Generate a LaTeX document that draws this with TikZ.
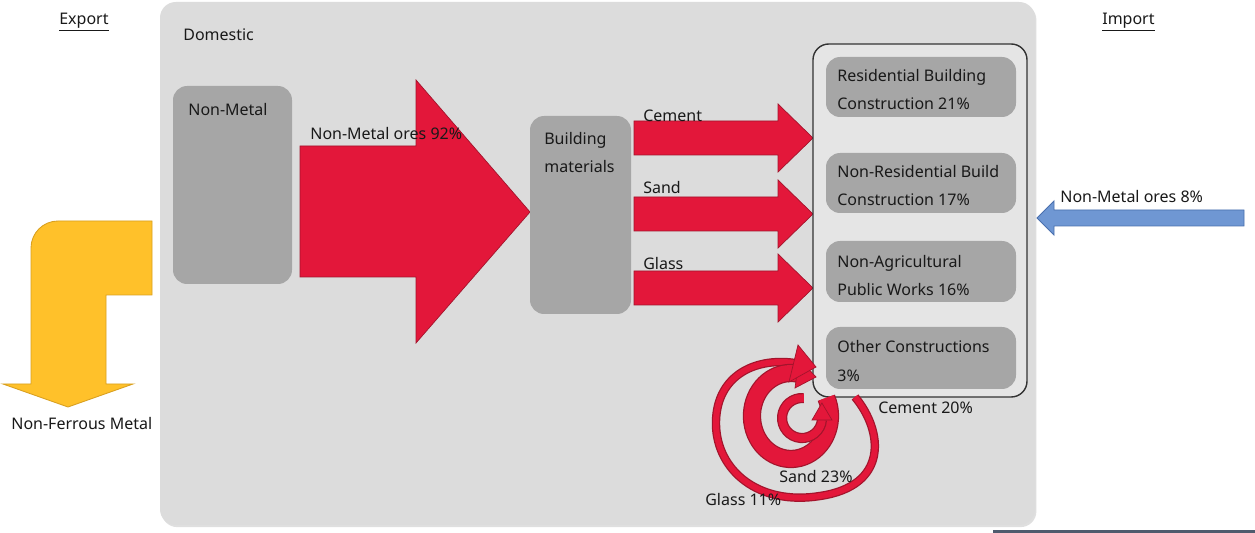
\documentclass[tikz,border=0pt]{standalone}
\usepackage{fontspec}
\setmainfont{Noto Sans}
\usetikzlibrary{shadows}
\definecolor{panelgray}{HTML}{DCDCDC}
\definecolor{boxgray}{HTML}{A6A6A6}
\definecolor{flowred}{HTML}{E3173A}
\definecolor{flowredline}{HTML}{A3142C}
\definecolor{importblue}{HTML}{6F97D3}
\definecolor{importblueline}{HTML}{4A70AE}
\definecolor{exportyellow}{HTML}{FFC12A}
\definecolor{exportyellowline}{HTML}{D9A020}
\definecolor{slate}{HTML}{4F5B6E}
\newcommand{\lblfont}{\fontsize{9.1}{10}\selectfont}
\begin{document}
\begin{tikzpicture}[x=0.02cm,y=-0.02cm,
  lbl/.style={inner sep=0pt,anchor=base west,font=\lblfont,text=black!90},
  graybox/.style={fill=boxgray,draw=none,rounded corners=8pt},
  flow/.style={fill=flowred,draw=flowredline,line width=0.4pt,line join=miter},
  bandout/.style={draw=flowredline,line cap=butt},
  bandin/.style={draw=flowred,line cap=butt},
]
\useasboundingbox (0,0) rectangle (1255,533);
\fill[white] (0,0) rectangle (1255,533);

% domestic panel
\path[fill=panelgray,rounded corners=9pt,
  drop shadow={shadow xshift=0.8pt,shadow yshift=-1.2pt,opacity=0.25,fill=black!50}]
  (160,2) rectangle (1035,525);
\node[lbl] (domestic) at (183,40.5) {Domestic};

% export / import headings
\node[lbl] (export) at (59,24.5) {\underline{Export}};
\node[lbl] (import) at (1102,24.5) {\underline{Import}};

% sources
\path[graybox] (173,86) rectangle (292,284);
\node[lbl] (nonmetal) at (188,115.5) {Non-Metal};

% main flow of non-metal ores
\draw[flow] (300,146) -- (416,146) -- (416,80) -- (530,212) -- (416,343) -- (416,277) -- (300,277) -- cycle;
\node[lbl] (nmores) at (310,139.5) {Non-Metal ores 92\%};

% building materials
\path[graybox] (530,116) rectangle (631,314);
\node[lbl] (bm1) at (544,144.5) {Building};
\node[lbl] (bm2) at (544,172.5) {materials};

% material flows
\draw[flow] (634,121) -- (778,121) -- (778,104) -- (813,138) -- (778,172) -- (778,155) -- (634,155) -- cycle;
\draw[flow] (634,197) -- (778,197) -- (778,180) -- (813,214) -- (778,248) -- (778,231) -- (634,231) -- cycle;
\draw[flow] (634,271) -- (778,271) -- (778,254) -- (813,288) -- (778,322) -- (778,305) -- (634,305) -- cycle;
\node[lbl] (cement) at (643,121.5) {Cement};
\node[lbl] (sand) at (643,193.5) {Sand};
\node[lbl] (glass) at (643,269.5) {Glass};

% construction sectors
\draw[draw=black!80,line width=0.8pt,fill=panelgray!75!white,rounded corners=9pt] (813,44) rectangle (1027,397);
\path[graybox] (826,57) rectangle (1016,117);
\path[graybox] (826,153) rectangle (1016,213);
\path[graybox] (826,241) rectangle (1016,302);
\path[graybox] (826,327) rectangle (1016,389);
\node[lbl] (s1a) at (837,81.5) {Residential Building};
\node[lbl] (s1b) at (837,109.5) {Construction 21\%};
\node[lbl] (s2a) at (837,177.5) {Non-Residential Build};
\node[lbl] (s2b) at (837,205.5) {Construction 17\%};
\node[lbl] (s3a) at (837,267.5) {Non-Agricultural};
\node[lbl] (s3b) at (837,295.5) {Public Works 16\%};
\node[lbl] (s4a) at (837,352.5) {Other Constructions};
\node[lbl] (s4b) at (837,381.5) {3\%};

% recycling spirals
% glass (outer, thin)
\def\glasspath{(855,397) .. controls (884,432) and (888,486) .. (820,496) .. controls (758,506) and (717,470) .. (716,425) .. controls (715,378) and (752,357) .. (795,363)}
\draw[bandout,line width=4.8pt] \glasspath;
\draw[bandin,line width=3.4pt] \glasspath;
% sand (middle, thick)
\draw[bandout,line width=10.4pt] (826.3,397.8) arc[start angle=-25,end angle=280,x radius=39,y radius=43];
\draw[bandin,line width=9pt] (826.3,397.8) arc[start angle=-25,end angle=280,x radius=39,y radius=43];
% cement (inner)
\draw[bandout,line width=5.8pt] (803.8,398.1) arc[start angle=275,end angle=5,radius=20];
\draw[bandin,line width=4.4pt] (803.8,398.1) arc[start angle=275,end angle=5,radius=20];
% arrow heads of the spirals
\draw[flow] (799,359) -- (816,377) -- (795,388) -- cycle;
\draw[flow] (812,420) -- (821.9,403) -- (832,420) -- cycle;
\draw[flow] (798,345) -- (816,367) -- (789,382) -- cycle;
\node[lbl] (cem20) at (878,413.5) {Cement 20\%};
\node[lbl] (sand23) at (779,482.5) {Sand 23\%};
\node[lbl] (glass11) at (705,505.5) {Glass 11\%};

% import flow
\draw[fill=importblue,draw=importblueline,line width=0.5pt]
  (1244,210) -- (1054,210) -- (1054,201) -- (1037,218) -- (1054,235) -- (1054,226) -- (1244,226) -- cycle;
\node[lbl] (imp8) at (1060,202.5) {Non-Metal ores 8\%};

% export flow (bent arrow)
\draw[fill=exportyellow,draw=exportyellowline,line width=0.5pt]
  (152,221) -- (58,221) arc[start angle=270,end angle=180,radius=27] -- (31,384) -- (3,384)
  -- (68,407) -- (133,384) -- (106,384) -- (106,295) -- (152,295) -- cycle;
\node[lbl] (nfm) at (11,429.5) {Non-Ferrous Metal};

% footer rule
\fill[slate] (993,530) rectangle (1255,533);
\end{tikzpicture}
\end{document}
